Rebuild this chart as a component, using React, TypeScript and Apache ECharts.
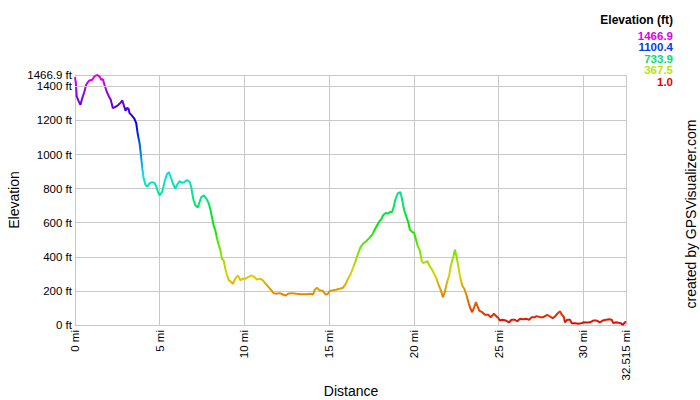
import React, { useEffect, useRef } from "react";
import * as echarts from "echarts";

const distanceMi = [
  0, 0.05, 0.1, 0.22, 0.32, 0.43, 0.56, 0.66, 0.82, 1.02, 1.15, 1.29, 1.45, 1.55, 1.64, 1.74, 1.88, 2.0,
  2.11, 2.23, 2.33, 2.53, 2.67, 2.79, 2.88, 2.98, 3.06, 3.16, 3.22, 3.35, 3.51, 3.61, 3.71, 3.81, 3.89,
  3.97, 4.05, 4.16, 4.26, 4.4, 4.56, 4.7, 4.8, 4.89, 4.99, 5.15, 5.29, 5.42, 5.54, 5.68, 5.78, 5.92,
  6.01, 6.17, 6.33, 6.47, 6.6, 6.76, 6.86, 6.92, 7.0, 7.1, 7.25, 7.35, 7.45, 7.61, 7.75, 7.9, 8.0, 8.1,
  8.18, 8.28, 8.38, 8.49, 8.58, 8.67, 8.77, 8.87, 8.97, 9.08, 9.23, 9.32, 9.46, 9.62, 9.76, 9.88, 10.07,
  10.21, 10.41, 10.6, 10.74, 10.94, 11.09, 11.25, 11.43, 11.59, 11.72, 11.88, 12.08, 12.27, 12.43, 12.57,
  12.77, 13.07, 13.36, 13.66, 13.95, 14.05, 14.15, 14.28, 14.44, 14.6, 14.68, 14.8, 14.93, 15.03, 15.19,
  15.39, 15.62, 15.82, 15.98, 16.11, 16.26, 16.41, 16.57, 16.7, 16.85, 17.0, 17.2, 17.39, 17.55, 17.69,
  17.83, 17.94, 18.09, 18.18, 18.34, 18.48, 18.58, 18.71, 18.81, 18.89, 18.97, 19.07, 19.21, 19.29, 19.36,
  19.46, 19.56, 19.66, 19.76, 19.89, 20.01, 20.11, 20.21, 20.35, 20.45, 20.54, 20.69, 20.8, 20.9, 21.04,
  21.19, 21.33, 21.47, 21.59, 21.71, 21.82, 21.96, 22.08, 22.18, 22.32, 22.42, 22.52, 22.61, 22.71, 22.85,
  22.97, 23.11, 23.24, 23.34, 23.44, 23.56, 23.66, 23.76, 23.85, 24.03, 24.19, 24.38, 24.54, 24.72, 24.88,
  24.97, 25.07, 25.23, 25.43, 25.62, 25.76, 25.96, 26.1, 26.26, 26.45, 26.65, 26.8, 26.95, 27.14, 27.24,
  27.44, 27.63, 27.87, 28.03, 28.19, 28.32, 28.46, 28.62, 28.72, 28.85, 28.91, 29.05, 29.21, 29.31, 29.5,
  29.7, 29.9, 30.0, 30.19, 30.39, 30.58, 30.79, 30.98, 31.14, 31.34, 31.53, 31.67, 31.77, 31.93, 32.06,
  32.2, 32.32, 32.46, 32.515,
];

const elevationFt = [
  1455, 1420, 1341, 1312, 1292, 1332, 1371, 1410, 1433, 1439, 1459, 1466.9, 1459, 1439, 1443, 1410, 1367, 1341,
  1322, 1273, 1277, 1289, 1302, 1318, 1289, 1257, 1273, 1269, 1243, 1230, 1210, 1185, 1116, 1067, 998,
  920, 861, 822, 812, 832, 838, 832, 812, 783, 760, 783, 842, 885, 897, 859, 830, 800,
  820, 844, 834, 840, 850, 840, 810, 771, 732, 703, 689, 722, 751, 761, 742, 712, 673, 624,
  585, 556, 507, 467, 438, 389, 379, 330, 291, 262, 252, 242, 272, 291, 262, 272, 272,
  281, 291, 281, 266, 272, 262, 242, 222, 203, 187, 183, 187, 179, 173, 183,
  187, 183, 181, 181, 183, 179, 207, 219, 203, 203, 193, 178, 183, 199, 203,
  207, 213, 219, 242, 272, 297, 336, 379, 419, 457, 477, 493, 513, 532, 560,
  585, 604, 624, 644, 657, 654, 663, 663, 693, 732, 755, 775, 779, 742, 703,
  663, 634, 604, 560, 546, 540, 507, 467, 438, 379, 363, 369, 375, 350, 330,
  301, 272, 232, 203, 163, 193, 252, 291, 350, 399, 442, 399, 350, 291, 232,
  213, 173, 125, 95, 75, 105, 134, 109, 85, 75, 60, 60, 46, 66, 50,
  42, 26, 31, 26, 16, 31, 31, 22, 36, 34, 36, 31, 46, 46, 52,
  46, 46, 60, 50, 40, 50, 66, 81, 62, 46, 16, 31, 31, 11, 11,
  7, 11, 16, 15, 16, 26, 26, 16, 26, 31, 34, 31, 11, 16, 13,
  11, 1.0, 16, 20,
];

const elevationMin = 1.0;
const elevationMax = 1466.9;
const distanceMax = 32.515;
const yTickValues = [0, 200, 400, 600, 800, 1000, 1200, 1400, 1466.9];
const xTickValues = [0, 5, 10, 15, 20, 25, 30, 32.515];

const legendTitle = "Elevation (ft)";
const legendValues = ["1466.9", "1100.4", "733.9", "367.5", "1.0"];
const legendColors = ["#e000e6", "#0a3ce6", "#00e073", "#b4e600", "#e60000"];

// hue ramp red -> magenta (low -> high elevation)
const rampColors = [
  "#e60000", "#e67300", "#dcd200", "#73e600", "#00e600", "#00e673",
  "#00e6e6", "#0073e6", "#0000e6", "#7300e6", "#e600e6",
];

const FONT = "Liberation Sans, Arial, Helvetica, sans-serif";

export default function App() {
  const ref = useRef<HTMLDivElement>(null);

  useEffect(() => {
    if (!ref.current) return;
    const chart = echarts.init(ref.current, null, { renderer: "svg" });
    const data = distanceMi.map((d, i) => [d, elevationFt[i]]);
    // the tick just below the max, which the axis drops because it is close to the max
    const nearMaxTick = yTickValues[yTickValues.length - 2];

    const legendGraphics: any[] = [
      {
        type: "text",
        right: 27,
        top: 14,
        style: { text: legendTitle, font: `bold 12px ${FONT}`, fill: "#000", textAlign: "right" },
      },
      ...legendValues.map((v, i) => ({
        type: "text",
        x: 673,
        y: 35.5 + i * 11.5,
        style: {
          text: v,
          font: `bold 11.5px ${FONT}`,
          fill: legendColors[i],
          textAlign: "right",
          textVerticalAlign: "middle",
        },
      })),
    ];

    const gridColor = "#c8c8c8";

    chart.setOption({
      animation: false,
      backgroundColor: "#ffffff",
      grid: { left: 75, top: 75, width: 551, height: 250, containLabel: false },
      xAxis: {
        type: "value",
        min: 0,
        max: distanceMax,
        axisLine: { show: true, lineStyle: { color: gridColor, width: 1 } },
        axisTick: { show: false, customValues: xTickValues },
        splitLine: { show: true, lineStyle: { color: gridColor, width: 1 } },
        axisLabel: {
          customValues: xTickValues,
          rotate: 90,
          margin: 5,
          color: "#000",
          fontFamily: FONT,
          fontSize: 11.5,
          showMinLabel: true,
          showMaxLabel: true,
          formatter: (v: number) => `${v} mi`,
        },
      },
      yAxis: {
        type: "value",
        min: 0,
        max: elevationMax,
        axisLine: { show: true, lineStyle: { color: gridColor, width: 1 } },
        axisTick: { show: false, customValues: yTickValues },
        splitLine: { show: true, lineStyle: { color: gridColor, width: 1 } },
        axisLabel: {
          customValues: yTickValues,
          margin: 3,
          color: "#000",
          fontFamily: FONT,
          fontSize: 11.5,
          showMinLabel: true,
          showMaxLabel: true,
          hideOverlap: false,
          formatter: (v: number) => `${v} ft`,
        },
      },
      visualMap: {
        type: "continuous",
        show: false,
        dimension: 1,
        min: elevationMin,
        max: elevationMax,
        seriesIndex: 0,
        inRange: { color: rampColors },
      },
      series: [
        {
          type: "line",
          z: 3,
          data,
          showSymbol: false,
          symbol: "none",
          lineStyle: { width: 2 },
          clip: false,
        },
        {
          type: "line",
          z: 1,
          data: [],
          silent: true,
          markLine: {
            silent: true,
            animation: false,
            symbol: ["none", "none"],
            lineStyle: { color: gridColor, width: 1, type: "solid" },
            label: {
              show: true,
              position: "start",
              distance: 3,
              color: "#000",
              fontFamily: FONT,
              fontSize: 11.5,
              formatter: () => `${nearMaxTick} ft`,
            },
            emphasis: { disabled: true },
            data: [{ yAxis: nearMaxTick }],
          },
        },
      ],
      graphic: [
        {
          type: "text",
          x: 351,
          y: 391,
          style: {
            text: "Distance",
            font: `14px ${FONT}`,
            fill: "#000",
            textAlign: "center",
            textVerticalAlign: "middle",
          },
        },
        {
          type: "text",
          x: 14,
          y: 200,
          rotation: Math.PI / 2,
          style: {
            text: "Elevation",
            font: `14px ${FONT}`,
            fill: "#000",
            textAlign: "center",
            textVerticalAlign: "middle",
          },
        },
        {
          type: "text",
          x: 691,
          y: 214,
          rotation: Math.PI / 2,
          style: {
            text: "created by GPSVisualizer.com",
            font: `14px ${FONT}`,
            fill: "#000",
            textAlign: "center",
            textVerticalAlign: "middle",
          },
        },
        ...legendGraphics,
      ],
    });

    return () => chart.dispose();
  }, []);

  return (
    <div
      ref={ref}
      style={{ position: "fixed", left: 0, top: 0, width: 700, height: 400, background: "#fff" }}
    />
  );
}
